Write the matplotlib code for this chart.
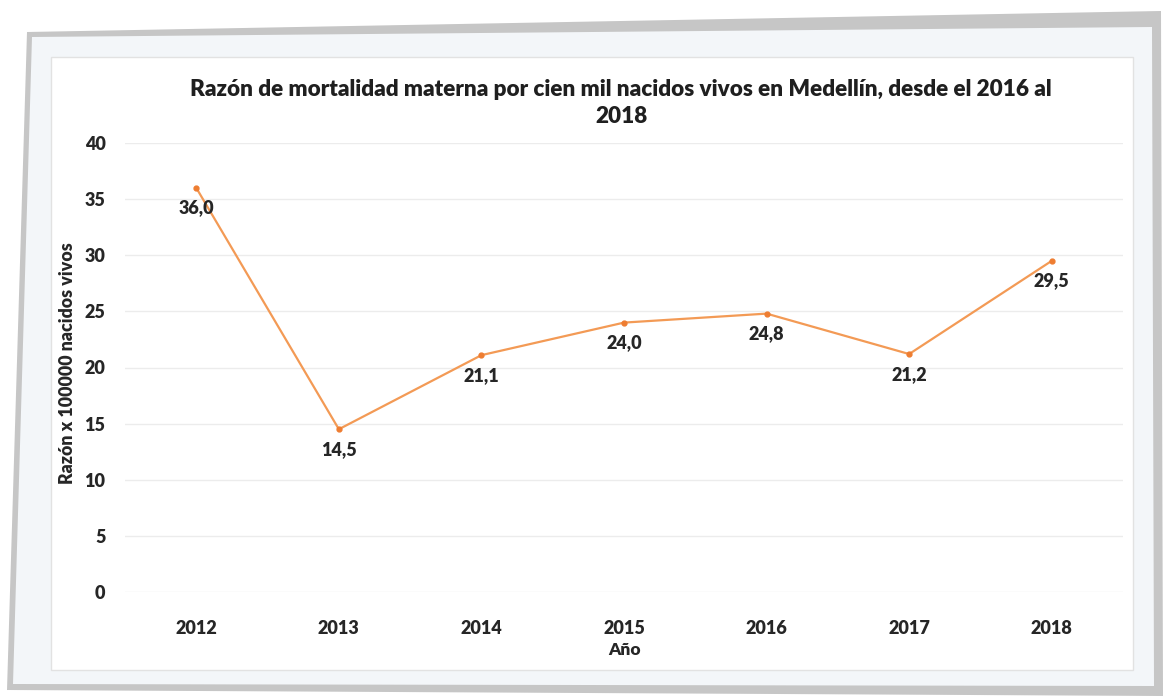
import matplotlib
matplotlib.use('Agg')
import matplotlib.pyplot as plt
from matplotlib.patches import Polygon, Rectangle

plt.rcParams['font.family'] = ['Lato', 'DejaVu Sans']

years = ['2012', '2013', '2014', '2015', '2016', '2017', '2018']
razon = [36.0, 14.5, 21.1, 24.0, 24.8, 21.2, 29.5]
y_ticks = [0, 5, 10, 15, 20, 25, 30, 35, 40]

title = ('Razón de mortalidad materna por cien mil nacidos vivos en Medellín, desde el 2016 al\n'
         '2018')

W, H = 1163, 696
fig = plt.figure(figsize=(W / 100, H / 100), dpi=100)
fig.patch.set_facecolor('white')

# frame drawn in pixel coordinates
bg = fig.add_axes([0, 0, 1, 1])
bg.set_xlim(0, W)
bg.set_ylim(H, 0)
bg.axis('off')
bg.add_patch(Polygon([(27, 32), (1161, 11), (1163, 696), (7, 690)],
                     closed=True, facecolor='#c6c6c6', edgecolor='none'))
bg.add_patch(Polygon([(32, 37), (1152, 27), (1154, 686), (13, 684)],
                     closed=True, facecolor='#f3f6f9', edgecolor='none'))
bg.add_patch(Rectangle((51, 57), 1082, 613, facecolor='white',
                       edgecolor='#e2e2e2', linewidth=1))

ax = fig.add_axes([125 / W, 1 - 592 / H, 998 / W, 449 / H])
ax.patch.set_alpha(0)
x = list(range(len(years)))
ax.plot(x, razon, color='#f39a55', linewidth=1.6, marker='o', markersize=3.5,
        markerfacecolor='#ee7d31', markeredgecolor='#ee7d31')

for xi, v in zip(x, razon):
    ax.annotate(f'{v:.1f}'.replace('.', ','), (xi, v), xytext=(0, -14.5),
                textcoords='offset points', ha='center', va='center',
                fontsize=13, fontweight='heavy', color='#262626')

ax.set_xlim(-0.5, len(years) - 0.5)
ax.set_ylim(0, 40)
ax.set_yticks(y_ticks)
ax.set_xticks(x)
ax.set_xticklabels(years)
ax.grid(axis='y', color='#ececec', linewidth=1)
ax.set_axisbelow(True)
for s in ax.spines.values():
    s.set_visible(False)
ax.tick_params(length=0, labelsize=13, labelcolor='#262626')
ax.tick_params(axis='x', pad=20)
ax.tick_params(axis='y', pad=14)
for lab in ax.get_xticklabels() + ax.get_yticklabels():
    lab.set_fontweight('heavy')

ax.set_ylabel('Razón x 100000 nacidos vivos', fontsize=12.8, fontweight='heavy',
              color='#262626')
ax.yaxis.set_label_coords(-0.049, 0.51)
ax.set_xlabel('Año', fontsize=12.5, fontweight='heavy', color='#262626')
ax.xaxis.set_label_coords(0.501, -0.112)

fig.text(621 / W, 1 - 103 / H, title, ha='center', va='center',
         multialignment='center', fontsize=16.2, fontweight='heavy',
         color='#1f1f1f', linespacing=1.35)

fig.savefig('out.png', dpi=100)
